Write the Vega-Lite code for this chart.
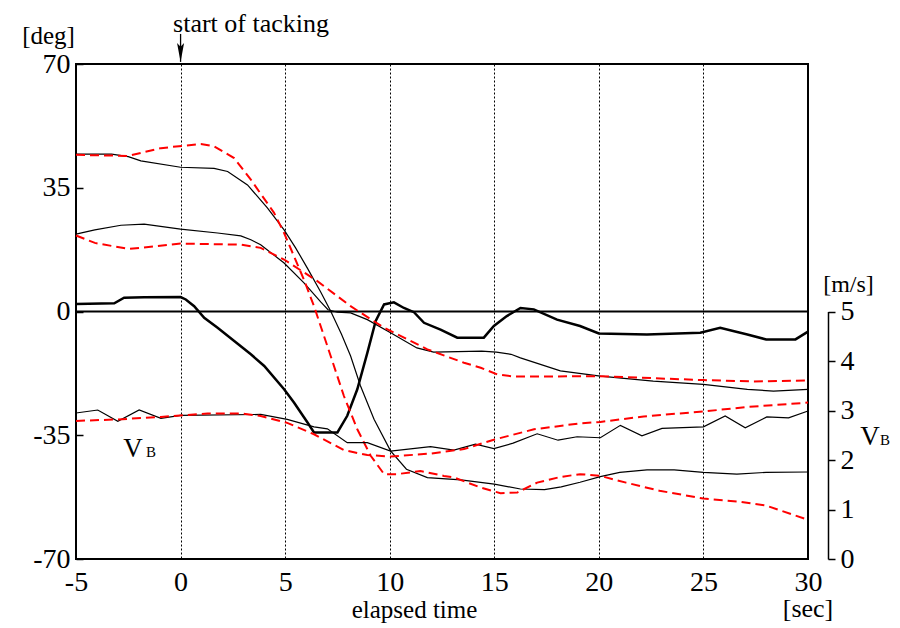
{
  "$schema": "https://vega.github.io/schema/vega-lite/v6.json",
  "width": 732,
  "height": 495,
  "autosize": {"type": "none"},
  "padding": {"left": 76, "top": 64, "right": 92, "bottom": 69},
  "background": "white",
  "config": {
    "view": {"stroke": "black", "strokeWidth": 2},
    "axis": {"labelFont": "Liberation Serif", "titleFont": "Liberation Serif", "labelColor": "black", "titleColor": "black", "titleFontWeight": "normal", "labelFontSize": 28, "titleFontSize": 25},
    "text": {"font": "Liberation Serif", "color": "black"}
  },
  "datasets": {
    "deg": [
      {"s":"A","t":-5,"v":44.5},{"s":"A","t":-3.3,"v":44.5},{"s":"A","t":-2.5,"v":43.8},{"s":"A","t":-1.9,"v":42.6},{"s":"A","t":0,"v":40.8},{"s":"A","t":1.6,"v":40.5},{"s":"A","t":2.25,"v":39.6},{"s":"A","t":3.2,"v":35.8},{"s":"A","t":4.15,"v":29.3},{"s":"A","t":4.95,"v":23.1},{"s":"A","t":5.5,"v":18.0},{"s":"A","t":6.07,"v":12.2},{"s":"A","t":6.7,"v":5.5},{"s":"A","t":7.18,"v":0.1},{"s":"A","t":7.7,"v":-6.5},{"s":"A","t":8.13,"v":-12.6},{"s":"A","t":8.6,"v":-21},{"s":"A","t":9.25,"v":-30.5},{"s":"A","t":10.04,"v":-39.4},{"s":"A","t":10.8,"v":-44.6},{"s":"A","t":11.8,"v":-47},{"s":"A","t":13.4,"v":-47.6},{"s":"A","t":15,"v":-48.8},{"s":"A","t":16.25,"v":-50.2},{"s":"A","t":17.4,"v":-50.4},{"s":"A","t":18.2,"v":-49.6},{"s":"A","t":19.1,"v":-48.3},{"s":"A","t":20.07,"v":-46.7},{"s":"A","t":21,"v":-45.5},{"s":"A","t":22.3,"v":-44.8},{"s":"A","t":23.6,"v":-44.8},{"s":"A","t":25,"v":-45.5},{"s":"A","t":26.6,"v":-46},{"s":"A","t":28,"v":-45.5},{"s":"A","t":30,"v":-45.4},
      {"s":"B","t":-5,"v":21.9},{"s":"B","t":-4.1,"v":23.1},{"s":"B","t":-2.85,"v":24.4},{"s":"B","t":-1.74,"v":24.7},{"s":"B","t":0,"v":23.3},{"s":"B","t":1.77,"v":22.2},{"s":"B","t":2.88,"v":21.4},{"s":"B","t":3.36,"v":20.3},{"s":"B","t":3.83,"v":18.9},{"s":"B","t":4.95,"v":13.7},{"s":"B","t":5.9,"v":8.1},{"s":"B","t":6.7,"v":2.7},{"s":"B","t":7.05,"v":0.5},{"s":"B","t":7.5,"v":-0.2},{"s":"B","t":8.13,"v":-0.4},{"s":"B","t":8.93,"v":-2.3},{"s":"B","t":10.04,"v":-6},{"s":"B","t":11.3,"v":-10.3},{"s":"B","t":12.1,"v":-11.5},{"s":"B","t":14.4,"v":-11.2},{"s":"B","t":15.1,"v":-11.5},{"s":"B","t":15.8,"v":-12.1},{"s":"B","t":16.25,"v":-13.1},{"s":"B","t":18.16,"v":-16.8},{"s":"B","t":20.07,"v":-18.3},{"s":"B","t":22.6,"v":-19.7},{"s":"B","t":25,"v":-20.6},{"s":"B","t":27.1,"v":-22},{"s":"B","t":28.35,"v":-22.5},{"s":"B","t":30,"v":-22},
      {"s":"C","t":-5,"v":2.1},{"s":"C","t":-3.17,"v":2.3},{"s":"C","t":-2.7,"v":3.9},{"s":"C","t":-1.74,"v":4.0},{"s":"C","t":0,"v":4.1},{"s":"C","t":0.25,"v":3.4},{"s":"C","t":0.65,"v":1.5},{"s":"C","t":1.13,"v":-1.8},{"s":"C","t":1.77,"v":-4.6},{"s":"C","t":3.36,"v":-12.1},{"s":"C","t":4,"v":-15.4},{"s":"C","t":4.95,"v":-22},{"s":"C","t":5.43,"v":-25.8},{"s":"C","t":6.07,"v":-31.4},{"s":"C","t":6.38,"v":-34.2},{"s":"C","t":7.5,"v":-34.2},{"s":"C","t":7.97,"v":-29.5},{"s":"C","t":8.45,"v":-22},{"s":"C","t":8.93,"v":-11.7},{"s":"C","t":9.33,"v":-2.7},{"s":"C","t":9.73,"v":2.0},{"s":"C","t":10.2,"v":2.6},{"s":"C","t":10.68,"v":1.0},{"s":"C","t":11.16,"v":-0.2},{"s":"C","t":11.64,"v":-3.2},{"s":"C","t":12.43,"v":-5.1},{"s":"C","t":13.23,"v":-7.4},{"s":"C","t":14.5,"v":-7.4},{"s":"C","t":14.98,"v":-4.1},{"s":"C","t":15.6,"v":-1.3},{"s":"C","t":16.25,"v":1.0},{"s":"C","t":16.89,"v":0.6},{"s":"C","t":18,"v":-2.3},{"s":"C","t":19.1,"v":-4.1},{"s":"C","t":20,"v":-6.2},{"s":"C","t":22.3,"v":-6.5},{"s":"C","t":24.85,"v":-6.0},{"s":"C","t":25.8,"v":-4.6},{"s":"C","t":27.1,"v":-6.5},{"s":"C","t":28,"v":-7.9},{"s":"C","t":29.4,"v":-7.9},{"s":"C","t":30,"v":-5.7},
      {"s":"D","t":-5,"v":44.3},{"s":"D","t":-2.5,"v":44},{"s":"D","t":-0.94,"v":46.2},{"s":"D","t":0.97,"v":47.4},{"s":"D","t":1.6,"v":46.7},{"s":"D","t":2.56,"v":43.4},{"s":"D","t":3.36,"v":37.3},{"s":"D","t":4.47,"v":27.9},{"s":"D","t":4.95,"v":22.2},{"s":"D","t":5.9,"v":9},{"s":"D","t":6.38,"v":1.5},{"s":"D","t":7.02,"v":-9.8},{"s":"D","t":7.81,"v":-23.9},{"s":"D","t":8.45,"v":-33.3},{"s":"D","t":9.09,"v":-40.8},{"s":"D","t":9.73,"v":-46},{"s":"D","t":10.36,"v":-46},{"s":"D","t":11.47,"v":-45.1},{"s":"D","t":12.59,"v":-46.5},{"s":"D","t":13.06,"v":-46.9},{"s":"D","t":14.35,"v":-49.8},{"s":"D","t":15.3,"v":-51.4},{"s":"D","t":16.1,"v":-51.2},{"s":"D","t":17.05,"v":-48.4},{"s":"D","t":18.16,"v":-46.8},{"s":"D","t":19.1,"v":-46},{"s":"D","t":20.07,"v":-46.5},{"s":"D","t":21.3,"v":-48.4},{"s":"D","t":22.9,"v":-50.7},{"s":"D","t":25,"v":-52.9},{"s":"D","t":26.76,"v":-53.8},{"s":"D","t":28,"v":-54.9},{"s":"D","t":30,"v":-58.9},
      {"s":"E","t":-5,"v":21.5},{"s":"E","t":-4.1,"v":19.4},{"s":"E","t":-2.5,"v":17.7},{"s":"E","t":-1.26,"v":18.4},{"s":"E","t":0,"v":19.2},{"s":"E","t":2.88,"v":18.9},{"s":"E","t":3.83,"v":18},{"s":"E","t":4.95,"v":14.7},{"s":"E","t":6.54,"v":8.6},{"s":"E","t":8.13,"v":1.5},{"s":"E","t":9.73,"v":-4.6},{"s":"E","t":11.8,"v":-10.7},{"s":"E","t":13.55,"v":-14.5},{"s":"E","t":14.35,"v":-15.9},{"s":"E","t":15.14,"v":-17.8},{"s":"E","t":15.94,"v":-18.4},{"s":"E","t":20.07,"v":-18.3},{"s":"E","t":25,"v":-19.4},{"s":"E","t":27.4,"v":-19.8},{"s":"E","t":30,"v":-19.5}
    ],
    "vb": [
      {"s":"F","t":-5,"b":2.95},{"s":"F","t":-3.96,"b":3.01},{"s":"F","t":-3.0,"b":2.78},{"s":"F","t":-1.98,"b":3.01},{"s":"F","t":-0.94,"b":2.84},{"s":"F","t":0,"b":2.9},{"s":"F","t":3.83,"b":2.92},{"s":"F","t":5.1,"b":2.82},{"s":"F","t":6.38,"b":2.67},{"s":"F","t":7.02,"b":2.63},{"s":"F","t":7.97,"b":2.35},{"s":"F","t":8.93,"b":2.35},{"s":"F","t":10.04,"b":2.18},{"s":"F","t":11.95,"b":2.27},{"s":"F","t":13.07,"b":2.2},{"s":"F","t":14.1,"b":2.32},{"s":"F","t":14.98,"b":2.23},{"s":"F","t":15.9,"b":2.34},{"s":"F","t":17.05,"b":2.53},{"s":"F","t":18.05,"b":2.4},{"s":"F","t":18.96,"b":2.47},{"s":"F","t":20.07,"b":2.45},{"s":"F","t":21.03,"b":2.7},{"s":"F","t":22.06,"b":2.49},{"s":"F","t":23.02,"b":2.64},{"s":"F","t":25,"b":2.67},{"s":"F","t":26.04,"b":2.89},{"s":"F","t":27,"b":2.65},{"s":"F","t":28.03,"b":2.87},{"s":"F","t":29.07,"b":2.85},{"s":"F","t":30,"b":2.99},
      {"s":"G","t":-5,"b":2.79},{"s":"G","t":-3,"b":2.82},{"s":"G","t":-0.94,"b":2.87},{"s":"G","t":1.29,"b":2.94},{"s":"G","t":2.88,"b":2.94},{"s":"G","t":3.83,"b":2.89},{"s":"G","t":5.1,"b":2.75},{"s":"G","t":6.38,"b":2.52},{"s":"G","t":7.81,"b":2.2},{"s":"G","t":8.93,"b":2.1},{"s":"G","t":10.04,"b":2.07},{"s":"G","t":11.95,"b":2.13},{"s":"G","t":13.55,"b":2.22},{"s":"G","t":14.98,"b":2.41},{"s":"G","t":16.9,"b":2.62},{"s":"G","t":19.1,"b":2.74},{"s":"G","t":20.07,"b":2.77},{"s":"G","t":22.14,"b":2.88},{"s":"G","t":25,"b":2.98},{"s":"G","t":27.07,"b":3.07},{"s":"G","t":30,"b":3.16}
    ]
  },
  "layer": [
    {
      "layer": [
        {
          "data": {"name": "deg"},
          "transform": [{"filter": "datum.s == 'A' || datum.s == 'B'"}],
          "mark": {"type": "line", "color": "black", "strokeWidth": 1.2},
          "encoding": {
            "x": {"field": "t", "type": "quantitative", "scale": {"domain": [-5, 30], "nice": false, "zero": false},
              "axis": {"values": [-5,0,5,10,15,20,25,30], "labelExpr": "'' + datum.value", "ticks": false, "domain": false, "grid": true, "gridColor": "black", "gridDash": [2,2], "gridWidth": 1, "gridOpacity": 1, "labelPadding": 9, "labelFlush": false, "labelOverlap": false, "title": "elapsed time", "titleX": 338, "titleY": 58, "titleBaseline": "alphabetic", "titleAlign": "center"}},
            "y": {"field": "v", "type": "quantitative", "scale": {"domain": [-70, 70], "nice": false, "zero": false},
              "axis": {"values": [-70,-35,0,35,70], "labelExpr": "'' + datum.value", "grid": false, "domain": false, "tickSize": -7, "tickColor": "black", "tickWidth": 1.5, "labelPadding": 13, "labelFlush": false, "labelOverlap": false, "title": "[deg]", "titleAngle": 0, "titleX": -28, "titleY": -21, "titleAlign": "center", "titleBaseline": "alphabetic"}},
            "detail": {"field": "s"}
          }
        },
        {
          "data": {"name": "deg"},
          "transform": [{"filter": "datum.s == 'C'"}],
          "mark": {"type": "line", "color": "black", "strokeWidth": 2.5},
          "encoding": {
            "x": {"field": "t", "type": "quantitative", "scale": {"domain": [-5, 30], "nice": false, "zero": false}},
            "y": {"field": "v", "type": "quantitative", "scale": {"domain": [-70, 70], "nice": false, "zero": false}}
          }
        },
        {
          "data": {"values": [{"v": 0}]},
          "mark": {"type": "rule", "color": "black", "strokeWidth": 2},
          "encoding": {
            "y": {"field": "v", "type": "quantitative", "scale": {"domain": [-70, 70], "nice": false, "zero": false}}
          }
        },
        {
          "data": {"name": "deg"},
          "transform": [{"filter": "datum.s == 'D' || datum.s == 'E'"}],
          "mark": {"type": "line", "color": "#ff0000", "strokeWidth": 2, "strokeDash": [9, 5]},
          "encoding": {
            "x": {"field": "t", "type": "quantitative", "scale": {"domain": [-5, 30], "nice": false, "zero": false}},
            "y": {"field": "v", "type": "quantitative", "scale": {"domain": [-70, 70], "nice": false, "zero": false}},
            "detail": {"field": "s"}
          }
        },
        {
          "data": {"values": [{"t": -2.27, "v": -41.1, "label": "V"}]},
          "mark": {"type": "text", "fontSize": 27, "align": "center", "baseline": "alphabetic"},
          "encoding": {
            "x": {"field": "t", "type": "quantitative", "scale": {"domain": [-5, 30], "nice": false, "zero": false}},
            "y": {"field": "v", "type": "quantitative", "scale": {"domain": [-70, 70], "nice": false, "zero": false}},
            "text": {"field": "label"}
          }
        },
        {
          "data": {"values": [{"t": -1.65, "v": -41.1, "label": "B"}]},
          "mark": {"type": "text", "fontSize": 15, "align": "left", "baseline": "alphabetic"},
          "encoding": {
            "x": {"field": "t", "type": "quantitative", "scale": {"domain": [-5, 30], "nice": false, "zero": false}},
            "y": {"field": "v", "type": "quantitative", "scale": {"domain": [-70, 70], "nice": false, "zero": false}},
            "text": {"field": "label"}
          }
        },
        {
          "data": {"values": [{"t": 3.37, "v": 79.0, "label": "start of tacking"}, {"t": 30, "v": -86.4, "label": "[sec]"}]},
          "mark": {"type": "text", "fontSize": 26, "align": "center", "baseline": "alphabetic"},
          "encoding": {
            "x": {"field": "t", "type": "quantitative", "scale": {"domain": [-5, 30], "nice": false, "zero": false}},
            "y": {"field": "v", "type": "quantitative", "scale": {"domain": [-70, 70], "nice": false, "zero": false}},
            "text": {"field": "label"}
          }
        },
        {
          "data": {"values": [{"t": 0, "v": 70.6, "v2": 78.5}]},
          "mark": {"type": "rule", "color": "black", "strokeWidth": 1.3},
          "encoding": {
            "x": {"field": "t", "type": "quantitative", "scale": {"domain": [-5, 30], "nice": false, "zero": false}},
            "y": {"field": "v", "type": "quantitative", "scale": {"domain": [-70, 70], "nice": false, "zero": false}},
            "y2": {"field": "v2"}
          }
        },
        {
          "data": {"values": [{"t": 0, "v": 73.25}]},
          "mark": {"type": "point", "shape": "M0,1L-0.37,-1L0,-0.6L0.37,-1Z", "filled": true, "size": 361, "color": "black", "opacity": 1, "strokeWidth": 0},
          "encoding": {
            "x": {"field": "t", "type": "quantitative", "scale": {"domain": [-5, 30], "nice": false, "zero": false}},
            "y": {"field": "v", "type": "quantitative", "scale": {"domain": [-70, 70], "nice": false, "zero": false}}
          }
        }
      ]
    },
    {
      "layer": [
        {
          "data": {"name": "vb"},
          "transform": [{"filter": "datum.s == 'F'"}],
          "mark": {"type": "line", "color": "black", "strokeWidth": 1.2},
          "encoding": {
            "x": {"field": "t", "type": "quantitative", "scale": {"domain": [-5, 30], "nice": false, "zero": false}},
            "y": {"field": "b", "type": "quantitative", "scale": {"domain": [0, 5], "nice": false, "zero": false, "range": [495, 247.5]},
              "axis": {"orient": "right", "offset": 20, "values": [0,1,2,3,4,5], "format": "d", "domain": true, "domainColor": "black", "domainWidth": 1.5, "ticks": true, "tickSize": 7, "tickColor": "black", "tickWidth": 1.5, "labelPadding": 5, "grid": false, "labelFlush": false, "labelOverlap": false, "title": "[m/s]", "titleAngle": 0, "titleX": 20, "titleY": 227, "titleAlign": "center", "titleBaseline": "alphabetic", "titleFontSize": 24}}
          }
        },
        {
          "data": {"name": "vb"},
          "transform": [{"filter": "datum.s == 'G'"}],
          "mark": {"type": "line", "color": "#ff0000", "strokeWidth": 2, "strokeDash": [9, 5]},
          "encoding": {
            "x": {"field": "t", "type": "quantitative", "scale": {"domain": [-5, 30], "nice": false, "zero": false}},
            "y": {"field": "b", "type": "quantitative", "scale": {"domain": [0, 5], "nice": false, "zero": false, "range": [495, 247.5]}}
          }
        },
        {
          "data": {"values": [{"t": 32.96, "b": 2.3, "label": "V"}]},
          "mark": {"type": "text", "fontSize": 27, "align": "center", "baseline": "alphabetic"},
          "encoding": {
            "x": {"field": "t", "type": "quantitative", "scale": {"domain": [-5, 30], "nice": false, "zero": false}},
            "y": {"field": "b", "type": "quantitative", "scale": {"domain": [0, 5], "nice": false, "zero": false, "range": [495, 247.5]}},
            "text": {"field": "label"}
          }
        },
        {
          "data": {"values": [{"t": 33.44, "b": 2.3, "label": "B"}]},
          "mark": {"type": "text", "fontSize": 15, "align": "left", "baseline": "alphabetic"},
          "encoding": {
            "x": {"field": "t", "type": "quantitative", "scale": {"domain": [-5, 30], "nice": false, "zero": false}},
            "y": {"field": "b", "type": "quantitative", "scale": {"domain": [0, 5], "nice": false, "zero": false, "range": [495, 247.5]}},
            "text": {"field": "label"}
          }
        }
      ]
    }
  ],
  "resolve": {"scale": {"y": "independent"}}
}
